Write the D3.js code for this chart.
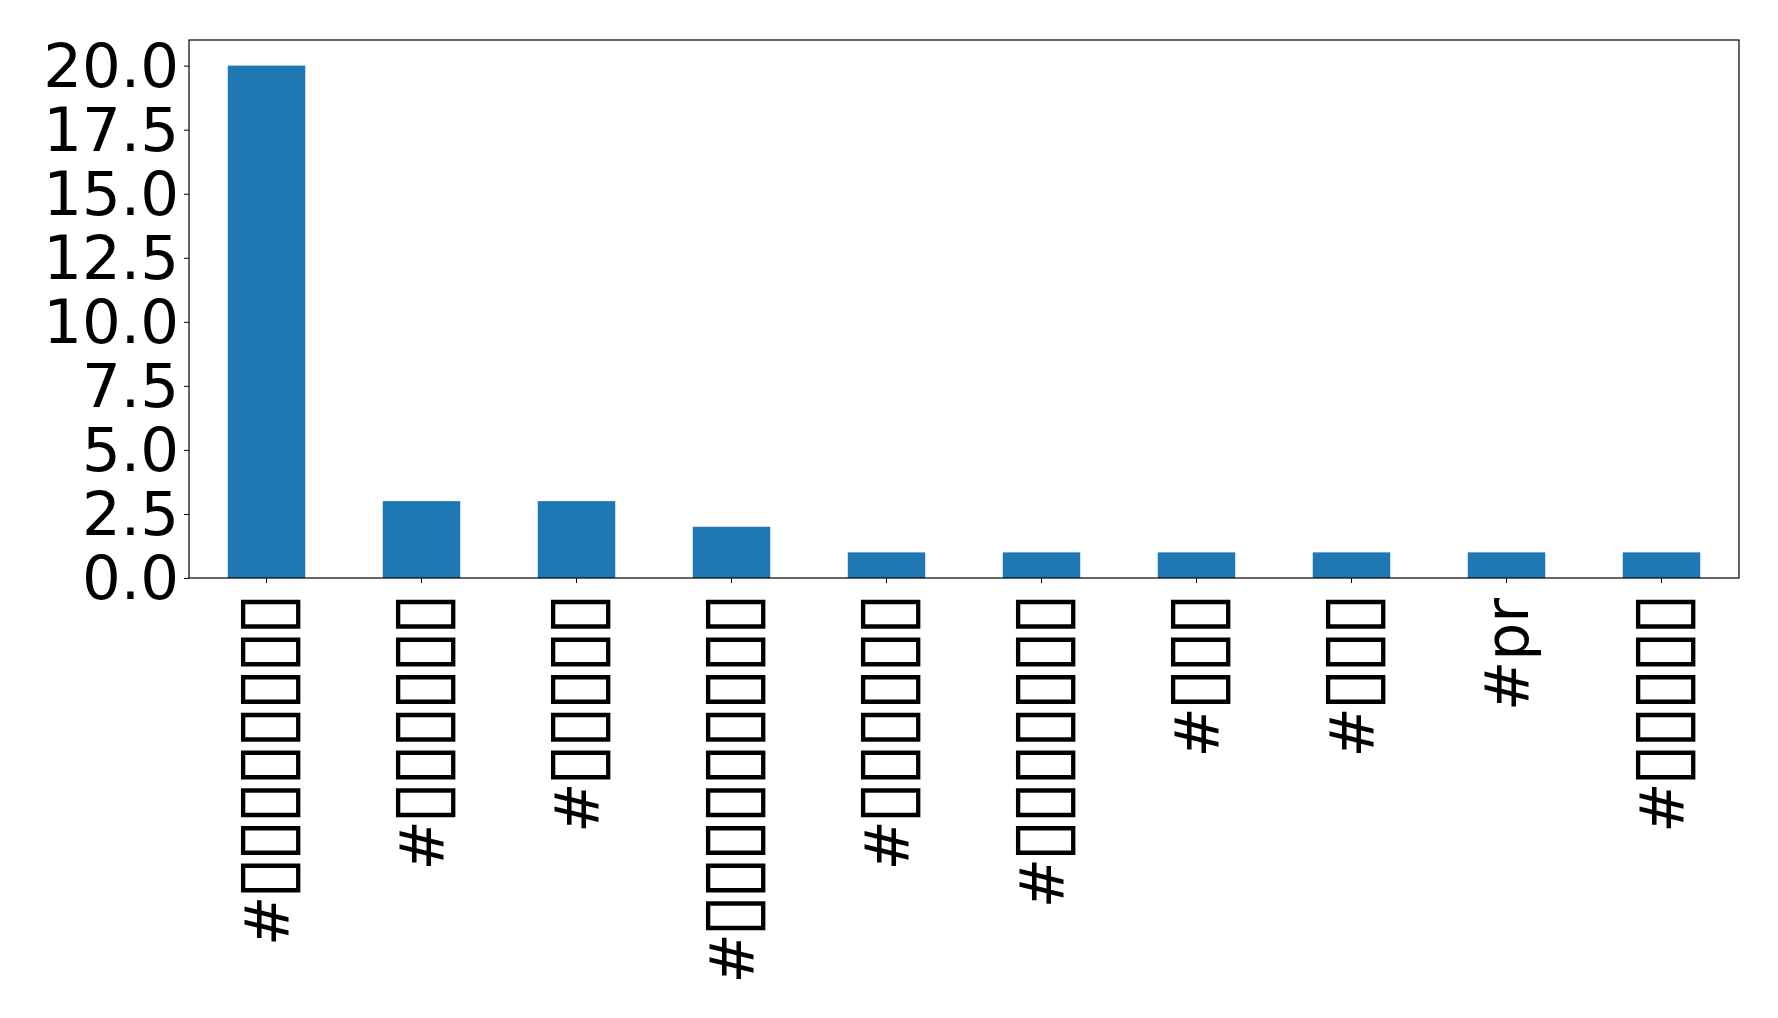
<!DOCTYPE html>
<html>
<head>
<meta charset="utf-8">
<script src="https://cdn.jsdelivr.net/npm/d3@7"></script>
<style>
  html, body { margin: 0; padding: 0; background: #fff; }
  svg { display: block; }
  text { font-family: "DejaVu Sans", sans-serif; fill: #000; }
</style>
</head>
<body>
<svg id="chart" width="1778" height="1018"></svg>
<script>
// Data (labels rendered as missing-glyph boxes in the original)
const categories = [
  "#▯▯▯▯▯▯▯▯",
  "#▯▯▯▯▯▯",
  "#▯▯▯▯▯",
  "#▯▯▯▯▯▯▯▯▯",
  "#▯▯▯▯▯▯",
  "#▯▯▯▯▯▯▯",
  "#▯▯▯",
  "#▯▯▯",
  "#pr",
  "#▯▯▯▯▯"
];
const values = [20, 3, 3, 2, 1, 1, 1, 1, 1, 1];
const yTicks = [0, 2.5, 5, 7.5, 10, 12.5, 15, 17.5, 20];

const margin = { left: 189, right: 1778 - 1739, top: 40, bottom: 1018 - 578 };
const W = 1778, H = 1018;
const iw = W - margin.left - margin.right;
const ih = H - margin.top - margin.bottom;

const svg = d3.select("#chart");
const g = svg.append("g").attr("transform", `translate(${margin.left},${margin.top})`);

const x = d3.scaleBand().domain(d3.range(categories.length)).range([0, iw]).paddingInner(0.5).paddingOuter(0.25);
const y = d3.scaleLinear().domain([0, 21]).range([ih, 0]);

g.selectAll("rect.bar").data(values).enter().append("rect")
  .attr("class", "bar")
  .attr("x", (d, i) => x(i))
  .attr("y", d => y(d))
  .attr("width", x.bandwidth())
  .attr("height", d => ih - y(d))
  .attr("fill", "#1f77b4");

// Y axis
const yAxis = g.append("g").call(d3.axisLeft(y).tickValues(yTicks).tickFormat(d3.format(".1f")).tickSize(5).tickPadding(5));
yAxis.select(".domain").remove();
yAxis.selectAll("text").style("font-size", "61px").attr("dy", "0.34em");
yAxis.selectAll("line").attr("stroke", "#000").attr("stroke-width", 1);

// X axis
const xAxis = g.append("g").attr("transform", `translate(0,${ih})`)
  .call(d3.axisBottom(x).tickFormat(() => "").tickSize(5));
xAxis.select(".domain").remove();
xAxis.selectAll("line").attr("stroke", "#000").attr("stroke-width", 1);

// measure box glyph advance at the box font size
const BOX_FS = 78, BOX_PITCH = 37.7;
const meas = svg.append("text").style("font-size", BOX_FS + "px").text("▯▯▯▯▯▯▯▯▯▯");
const boxAdv = meas.node().getComputedTextLength() / 10;
meas.remove();
const boxLS = BOX_PITCH - boxAdv;

xAxis.selectAll(".tick").each(function (i) {
  const label = categories[i];
  const t = d3.select(this).append("text")
    .attr("text-anchor", "end")
    .attr("transform", "rotate(-90)")
    .attr("x", -20)
    .attr("y", 0)
    .attr("dy", "0.35em")
    .style("font-size", "60px");
  const runs = label.match(/▯+|[^▯]+/g);
  runs.forEach(r => {
    if (r[0] === "▯") {
      t.append("tspan").style("font-size", BOX_FS + "px")
        .style("letter-spacing", boxLS + "px")
        .attr("dx", -4)
        .attr("dy", 3)
        .text(r);
    } else {
      t.append("tspan").text(r);
    }
  });
});

// Frame
g.append("rect").attr("x", 0).attr("y", 0).attr("width", iw).attr("height", ih)
  .attr("fill", "none").attr("stroke", "#000").attr("stroke-width", 1.2);
</script>
</body>
</html>
